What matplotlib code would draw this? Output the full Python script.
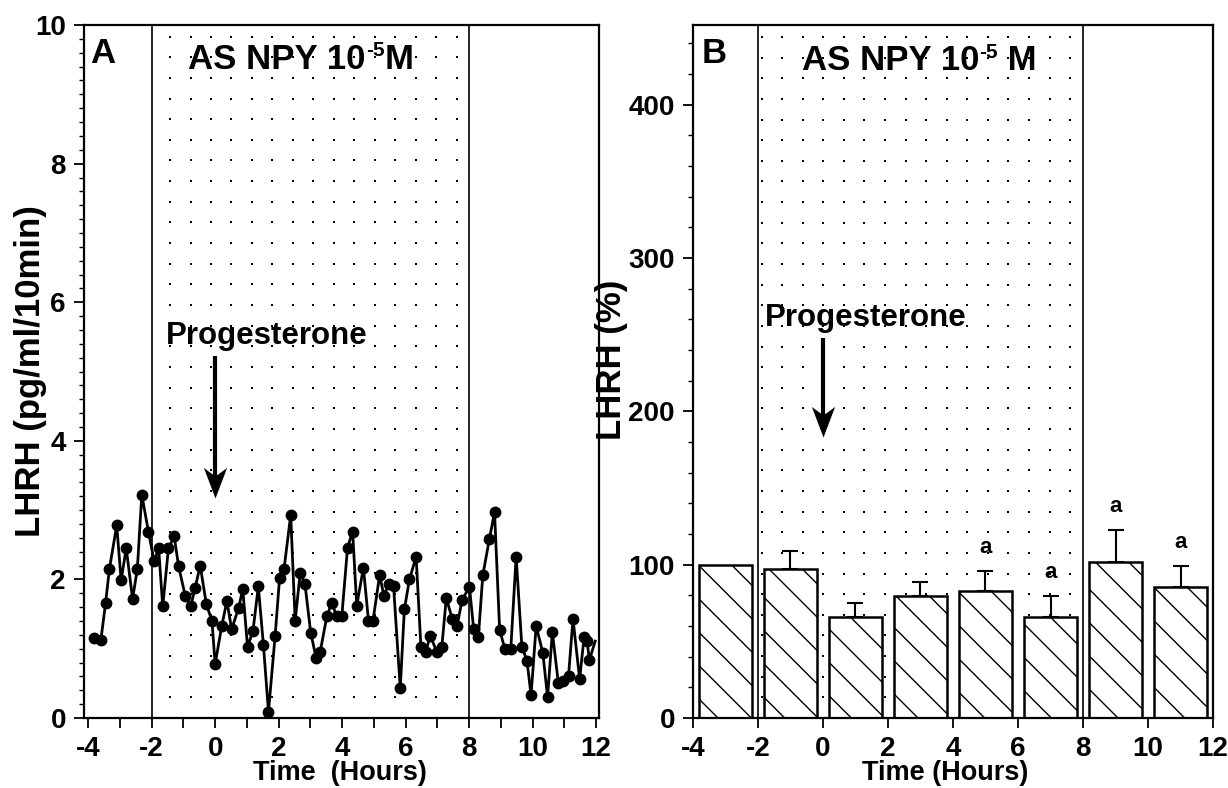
import matplotlib
matplotlib.use("Agg")
import matplotlib.pyplot as plt
import numpy as np
from matplotlib.path import Path
from matplotlib.ticker import MultipleLocator

plt.rcParams.update({
    "font.family": ["Liberation Sans", "DejaVu Sans"],
    "font.weight": "bold",
    "axes.labelweight": "bold",
    "axes.linewidth": 1.6,
    "axes.unicode_minus": False,
    "hatch.linewidth": 1.0,
    "xtick.direction": "out",
    "ytick.direction": "out",
})

# Panel A: LHRH in 10-min perifusate fractions
time_h = [-3.80, -3.60, -3.45, -3.33, -3.10, -2.96, -2.80, -2.60, -2.45, -2.31,
          -2.10, -1.92, -1.78, -1.65, -1.47, -1.29, -1.15, -0.94, -0.77, -0.63,
          -0.47, -0.28, -0.10, 0.00, 0.21, 0.37, 0.52, 0.74, 0.87, 1.02,
          1.19, 1.36, 1.52, 1.68, 1.89, 2.03, 2.17, 2.38, 2.52, 2.68,
          2.83, 3.01, 3.18, 3.31, 3.52, 3.67, 3.83, 3.99, 4.17, 4.33,
          4.46, 4.67, 4.83, 4.97, 5.18, 5.32, 5.46, 5.62, 5.83, 5.96,
          6.12, 6.33, 6.48, 6.64, 6.77, 6.98, 7.14, 7.28, 7.47, 7.62,
          7.78, 8.01, 8.14, 8.29, 8.43, 8.64, 8.80, 8.96, 9.13, 9.31,
          9.48, 9.66, 9.82, 9.95, 10.11, 10.32, 10.47, 10.62, 10.81, 10.97,
          11.13, 11.27, 11.48, 11.62, 11.71, 11.79, 11.97]
lhrh_pg = [1.16, 1.12, 1.66, 2.15, 2.78, 1.99, 2.45, 1.72, 2.15, 3.22,
           2.69, 2.26, 2.45, 1.61, 2.45, 2.62, 2.19, 1.76, 1.61, 1.88,
           2.20, 1.65, 1.40, 0.78, 1.33, 1.69, 1.28, 1.59, 1.86, 1.03,
           1.25, 1.90, 1.06, 0.09, 1.19, 2.02, 2.15, 2.93, 1.40, 2.10,
           1.93, 1.23, 0.87, 0.96, 1.47, 1.66, 1.47, 1.47, 2.46, 2.69,
           1.62, 2.17, 1.40, 1.40, 2.06, 1.76, 1.94, 1.90, 0.43, 1.57,
           2.00, 2.33, 1.03, 0.96, 1.19, 0.96, 1.03, 1.73, 1.43, 1.33,
           1.71, 1.89, 1.29, 1.17, 2.06, 2.59, 2.97, 1.27, 0.99, 0.99,
           2.33, 1.03, 0.83, 0.33, 1.33, 0.94, 0.30, 1.24, 0.50, 0.53,
           0.61, 1.43, 0.56, 1.17, 1.11, 0.84, 1.11]

# Panel B: mean LHRH per 2-h period, % of pretreatment
period_mid = [-3, -1, 1, 3, 5, 7, 9, 11]
lhrh_pct = [100.0, 97.2, 66.0, 79.4, 82.7, 66.0, 101.7, 85.5]
lhrh_sem = [0.0, 11.9, 9.1, 9.1, 13.2, 13.4, 21.0, 13.4]
sig_marks = ["", "", "", "", "a", "a", "a", "a"]

infusion = (-2, 8)
progesterone_t = 0

# downward arrow head with a notched back, tip at the origin
ARROW_HEAD = Path([(0, 0), (-0.38, 1), (0, 0.72), (0.38, 1), (0, 0)],
                  [Path.MOVETO, Path.LINETO, Path.LINETO, Path.LINETO, Path.CLOSEPOLY])


def dot_grid(ax, x0, dx, n_cols, dy, n_rows):
    """Stipple the infusion window with a regular grid of dots."""
    xs, ys = np.meshgrid(x0 + dx * np.arange(n_cols), dy * np.arange(n_rows))
    ax.scatter(xs.ravel(), ys.ravel(), s=2.6, marker="s", c="k",
               linewidths=0, zorder=0.5)


def window_lines(ax):
    for x in infusion:
        ax.axvline(x, color="k", lw=1.2, zorder=1)


def title_with_exponent(ax, x, y, tail):
    base = ax.text(x, y, "AS NPY 10", fontsize=25, zorder=4)
    sup = ax.annotate("-5", xy=(1, 1), xycoords=base, xytext=(0.5, 1),
                      textcoords="offset points", ha="left", va="top",
                      fontsize=15, zorder=4)
    ax.annotate(tail, xy=(1, 0), xycoords=(sup, base), ha="left", va="bottom",
                fontsize=25, zorder=4)


def progesterone_arrow(ax, x_text, y_text, y_top, y_tip, shaft_gap):
    ax.text(x_text, y_text, "Progesterone", fontsize=22.5, zorder=4)
    ax.plot([progesterone_t, progesterone_t], [y_top, y_tip + shaft_gap],
            color="k", lw=3, solid_capstyle="butt", zorder=4)
    ax.plot([progesterone_t], [y_tip], marker=ARROW_HEAD, markersize=44,
            color="k", markeredgewidth=0, zorder=4)


def style_ticks(ax):
    ax.tick_params(which="major", length=7, width=1.3, pad=6, labelsize=20)
    ax.tick_params(which="minor", length=3.5, width=1.0)


fig = plt.figure(figsize=(12.28, 7.88), dpi=100)
ax_a = fig.add_axes([0.0684, 0.0888, 0.4194, 0.8794])
ax_b = fig.add_axes([0.5643, 0.0888, 0.4235, 0.8794])

# ---- A: pulse profile ----
dot_grid(ax_a, -1.42, 0.645, 15, 0.298, 34)
window_lines(ax_a)
ax_a.plot(time_h, lhrh_pg, "-", color="k", lw=2, zorder=3,
          marker="o", markersize=7.5, markevery=slice(0, len(time_h) - 1))
ax_a.set_xlim(-4.13, 12.09)
ax_a.set_ylim(0, 10)
ax_a.xaxis.set_major_locator(MultipleLocator(2))
ax_a.xaxis.set_minor_locator(MultipleLocator(1))
ax_a.yaxis.set_major_locator(MultipleLocator(2))
ax_a.yaxis.set_minor_locator(MultipleLocator(0.2))
style_ticks(ax_a)
ax_a.tick_params(axis="x", which="minor", length=7, width=1.3)
ax_a.set_xlabel("Time  (Hours)", fontsize=19.5)
ax_a.xaxis.set_label_coords(0.497, -0.06)
ax_a.set_ylabel("LHRH (pg/ml/10min)", fontsize=25)
ax_a.yaxis.set_label_coords(-0.072, 0.5)
ax_a.text(0.012, 0.945, "A", transform=ax_a.transAxes, fontsize=25, zorder=4)
title_with_exponent(ax_a, -0.85, 9.37, "M")
progesterone_arrow(ax_a, -1.54, 5.4, 5.22, 3.17, 0.3)

# ---- B: mean release per period ----
dot_grid(ax_b, -1.89, 0.633, 16, 13.46, 34)
window_lines(ax_b)
ax_b.bar(period_mid, lhrh_pct, width=1.65, color="white", edgecolor="k",
         linewidth=1.8, hatch="\\", zorder=2)
ax_b.errorbar(period_mid[1:], lhrh_pct[1:],
              yerr=[np.zeros(len(lhrh_sem) - 1), lhrh_sem[1:]],
              fmt="none", ecolor="k", elinewidth=1.5, capsize=5.5,
              capthick=1.5, zorder=3)
for x, m, s, mark in zip(period_mid, lhrh_pct, lhrh_sem, sig_marks):
    if mark:
        ax_b.annotate(mark, xy=(x, m + s), xytext=(0, 13),
                      textcoords="offset points", ha="center", va="baseline",
                      fontsize=16, zorder=4)
ax_b.set_xlim(-4, 12)
ax_b.set_ylim(0, 452)
ax_b.xaxis.set_major_locator(MultipleLocator(2))
ax_b.yaxis.set_major_locator(MultipleLocator(100))
ax_b.yaxis.set_minor_locator(MultipleLocator(20))
style_ticks(ax_b)
ax_b.set_xlabel("Time (Hours)", fontsize=19.5)
ax_b.xaxis.set_label_coords(0.485, -0.06)
ax_b.set_ylabel("LHRH (%)", fontsize=25)
ax_b.yaxis.set_label_coords(-0.125, 0.517)
ax_b.text(0.017, 0.945, "B", transform=ax_b.transAxes, fontsize=25, zorder=4)
title_with_exponent(ax_b, -0.66, 422.4, " M")
progesterone_arrow(ax_b, -1.78, 255.8, 248, 183, 14)

fig.savefig("out.png", dpi=100, facecolor="white")
